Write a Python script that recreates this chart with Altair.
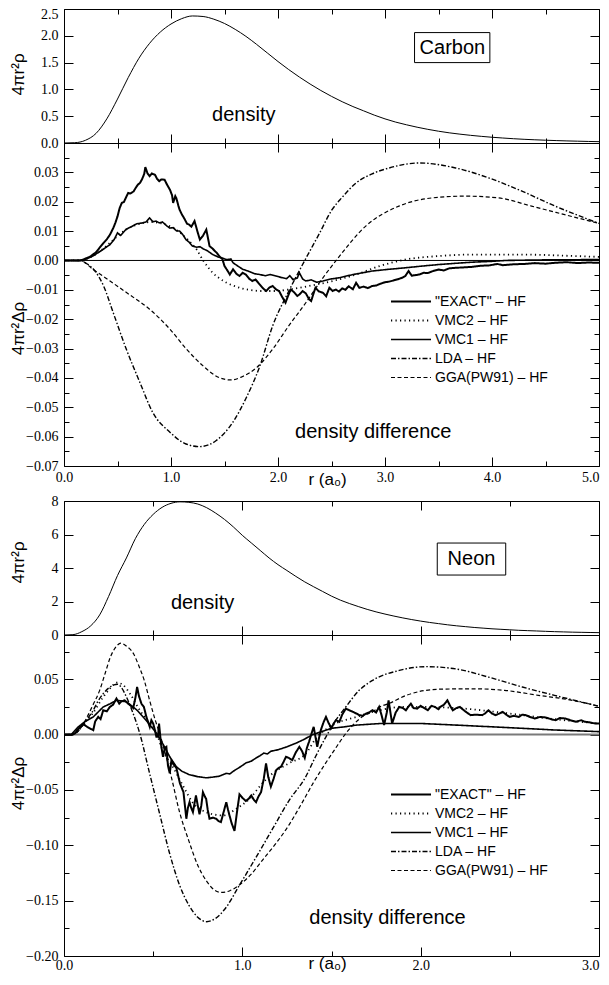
import altair as alt
import pandas as pd

# ======================= DATA =======================
SERIES = ['"EXACT" – HF', 'VMC2 – HF', 'VMC1 – HF', 'LDA – HF', 'GGA(PW91) – HF']

# ---- Carbon: radial density 4πr²ρ ----
C_DENS = [(0.0, 0.0), (0.1, 0.005), (0.2, 0.05), (0.3, 0.18), (0.4, 0.45), (0.5, 0.82),
          (0.6, 1.22), (0.7, 1.58), (0.8, 1.86), (0.9, 2.07), (1.0, 2.22), (1.1, 2.32),
          (1.2, 2.37), (1.3, 2.36), (1.4, 2.31), (1.5, 2.23), (1.6, 2.12), (1.7, 1.99),
          (1.8, 1.84), (1.9, 1.68), (2.0, 1.52), (2.1, 1.37), (2.2, 1.23), (2.3, 1.10),
          (2.4, 0.98), (2.5, 0.87), (2.6, 0.77), (2.7, 0.68), (2.8, 0.60), (2.9, 0.52),
          (3.0, 0.45), (3.1, 0.39), (3.2, 0.34), (3.3, 0.295), (3.4, 0.255), (3.5, 0.22),
          (3.6, 0.19), (3.7, 0.165), (3.8, 0.143), (3.9, 0.124), (4.0, 0.107), (4.1, 0.093),
          (4.2, 0.080), (4.3, 0.069), (4.4, 0.060), (4.5, 0.052), (4.6, 0.045), (4.7, 0.039),
          (4.8, 0.034), (4.9, 0.029), (5.0, 0.025)]

# ---- Carbon: density differences 4πr²Δρ ----
C_EXACT = [(0.0, 0.0), (0.1, 0.0), (0.15, 0.0), (0.18, 0.0003), (0.21, 0.0008), (0.24, 0.0012),
           (0.27, 0.002), (0.3, 0.0028), (0.33, 0.0042), (0.37, 0.006), (0.40, 0.0072), (0.43, 0.0088),
           (0.46, 0.011), (0.48, 0.0128), (0.5, 0.015), (0.52, 0.0178), (0.54, 0.0196), (0.56, 0.0199),
           (0.58, 0.0215), (0.6, 0.023), (0.62, 0.0228), (0.65, 0.0235), (0.67, 0.0247), (0.69, 0.0258),
           (0.71, 0.0264), (0.73, 0.0277), (0.75, 0.0295), (0.76, 0.0318), (0.78, 0.0297), (0.80, 0.0287),
           (0.82, 0.0296), (0.85, 0.0292), (0.87, 0.0278), (0.89, 0.027), (0.91, 0.0276), (0.94, 0.0275),
           (0.96, 0.026), (0.99, 0.0241), (1.01, 0.0222), (1.02, 0.0196), (1.04, 0.0219), (1.05, 0.0212),
           (1.07, 0.0185), (1.08, 0.0173), (1.10, 0.0158), (1.13, 0.0139), (1.15, 0.0125), (1.17, 0.0122),
           (1.19, 0.0115), (1.22, 0.0134), (1.25, 0.0095), (1.27, 0.0071), (1.30, 0.0085), (1.33, 0.0105),
           (1.35, 0.0068), (1.36, 0.0049), (1.39, 0.004), (1.41, 0.0032), (1.43, 0.0025), (1.45, 0.0015),
           (1.48, 0.0005), (1.5, -0.0019), (1.52, -0.003), (1.55, -0.0048), (1.58, -0.003), (1.61, -0.0045),
           (1.64, -0.0053), (1.67, -0.0042), (1.70, -0.0048), (1.73, -0.0062), (1.76, -0.007), (1.79, -0.0065),
           (1.83, -0.0082), (1.86, -0.0095), (1.89, -0.0104), (1.92, -0.0092), (1.95, -0.0087), (1.98, -0.0098),
           (2.01, -0.0104), (2.04, -0.0125), (2.07, -0.0144), (2.1, -0.0115), (2.12, -0.0099), (2.15, -0.0108),
           (2.18, -0.0121), (2.2, -0.0116), (2.23, -0.0104), (2.26, -0.0112), (2.29, -0.0132), (2.31, -0.0138),
           (2.33, -0.0115), (2.35, -0.0093), (2.38, -0.0105), (2.42, -0.011), (2.45, -0.0122), (2.48, -0.0093),
           (2.51, -0.0104), (2.54, -0.0099), (2.57, -0.0106), (2.6, -0.0095), (2.63, -0.01), (2.66, -0.0088),
           (2.7, -0.0098), (2.73, -0.0076), (2.76, -0.0093), (2.8, -0.0089), (2.84, -0.0094), (2.88, -0.0087),
           (2.92, -0.0085), (2.96, -0.0079), (3.0, -0.0074), (3.04, -0.0072), (3.08, -0.0068), (3.12, -0.0064),
           (3.16, -0.0059), (3.19, -0.0053), (3.22, -0.0036), (3.25, -0.0052), (3.28, -0.005), (3.32, -0.0048),
           (3.36, -0.0042), (3.4, -0.0043), (3.45, -0.0036), (3.5, -0.0031), (3.55, -0.0034), (3.6, -0.0027),
           (3.66, -0.0025), (3.72, -0.0024), (3.81, -0.0022), (3.9, -0.0018), (3.97, -0.0017), (4.05, -0.0012),
           (4.1, -0.0016), (4.2, -0.0013), (4.3, -0.0012), (4.4, -0.0009), (4.5, -0.0011), (4.59, -0.0008),
           (4.7, -0.0006), (4.8, -0.0009), (4.9, -0.0007), (5.0, -0.0008)]

C_VMC2 = [(0.0, 0.0), (0.15, 0.0), (0.2, 0.0004), (0.27, 0.0015), (0.35, 0.0035), (0.43, 0.006),
          (0.5, 0.0083), (0.58, 0.0105), (0.66, 0.0119), (0.74, 0.0128), (0.82, 0.0131), (0.89, 0.0128),
          (0.96, 0.0121), (1.02, 0.0111), (1.08, 0.0096), (1.14, 0.0077), (1.19, 0.0058), (1.24, 0.0037),
          (1.30, 0.0), (1.35, -0.0025), (1.39, -0.0042), (1.45, -0.006), (1.52, -0.0076), (1.60, -0.0088),
          (1.67, -0.0096), (1.75, -0.0101), (1.83, -0.0104), (1.98, -0.0104), (2.1, -0.0099), (2.29, -0.0087),
          (2.51, -0.007), (2.73, -0.0048), (2.95, -0.0019), (3.19, 0.0003), (3.5, 0.0015), (3.81, 0.002),
          (4.28, 0.002), (4.7, 0.0016), (5.0, 0.0012)]

C_VMC1 = [(0.0, 0.0), (0.15, 0.0), (0.2, 0.0004), (0.27, 0.0015), (0.35, 0.0034), (0.43, 0.0054),
          (0.47, 0.0072), (0.5, 0.0094), (0.53, 0.0085), (0.58, 0.0106), (0.63, 0.0115), (0.68, 0.0125),
          (0.74, 0.0128), (0.77, 0.0132), (0.80, 0.0145), (0.83, 0.0132), (0.86, 0.0134), (0.89, 0.0128),
          (0.92, 0.0131), (0.96, 0.0118), (0.99, 0.011), (1.02, 0.0112), (1.05, 0.0101), (1.08, 0.010),
          (1.11, 0.0088), (1.14, 0.0071), (1.17, 0.0062), (1.20, 0.0049), (1.24, 0.0045), (1.27, 0.0047),
          (1.30, 0.004), (1.34, 0.0033), (1.39, 0.002), (1.44, 0.0012), (1.48, 0.0008), (1.52, 0.0003),
          (1.56, 0.0005), (1.58, -0.0008), (1.62, -0.0018), (1.67, -0.003), (1.72, -0.0036), (1.78, -0.0045),
          (1.83, -0.0048), (1.88, -0.0052), (1.93, -0.0048), (1.98, -0.0053), (2.03, -0.0058), (2.08, -0.0062),
          (2.11, -0.0052), (2.14, -0.0065), (2.18, -0.006), (2.2, -0.0042), (2.23, -0.0063), (2.26, -0.007),
          (2.31, -0.0066), (2.36, -0.0074), (2.42, -0.007), (2.48, -0.0064), (2.57, -0.0059), (2.7, -0.0048),
          (2.88, -0.0036), (3.04, -0.003), (3.19, -0.0025), (3.35, -0.0019), (3.5, -0.0014), (3.65, -0.001),
          (3.81, -0.0006), (4.0, -0.0003), (4.13, 0.0), (4.5, 0.0002), (5.0, 0.0003)]

C_LDA = [(0.0, 0.0), (0.1, 0.0), (0.15, 0.0), (0.2, -0.0008), (0.29, -0.0036), (0.37, -0.0087),
         (0.46, -0.0178), (0.58, -0.030), (0.71, -0.0416), (0.83, -0.0518), (0.99, -0.0585),
         (1.14, -0.0625), (1.27, -0.0634), (1.42, -0.0614), (1.58, -0.055), (1.70, -0.047),
         (1.83, -0.036), (1.95, -0.0223), (2.1, -0.0105), (2.25, 0.0), (2.39, 0.0094), (2.5, 0.017),
         (2.6, 0.0215), (2.73, 0.0264), (2.88, 0.0295), (3.04, 0.0315), (3.32, 0.0332), (3.66, 0.0315),
         (3.97, 0.0281), (4.28, 0.0236), (4.59, 0.0185), (4.9, 0.014), (5.0, 0.0126)]

C_GGA = [(0.0, 0.0), (0.15, 0.0), (0.27, -0.003), (0.43, -0.007), (0.61, -0.0116), (0.80, -0.0166),
         (0.99, -0.0234), (1.14, -0.030), (1.30, -0.0359), (1.45, -0.0399), (1.56, -0.0407),
         (1.67, -0.0395), (1.80, -0.0365), (1.95, -0.0302), (2.1, -0.0223), (2.26, -0.0144),
         (2.42, -0.0059), (2.55, 0.0003), (2.82, 0.0117), (3.13, 0.0185), (3.44, 0.0213), (3.75, 0.0219),
         (4.06, 0.0213), (4.37, 0.0185), (4.68, 0.0156), (5.0, 0.0126)]

# ---- Neon: radial density 4πr²ρ ----
N_DENS = [(0.0, 0.0), (0.05, 0.02), (0.10, 0.2), (0.15, 0.55), (0.20, 1.2), (0.25, 2.3), (0.30, 3.55),
          (0.35, 4.6), (0.40, 5.75), (0.45, 6.6), (0.50, 7.2), (0.55, 7.62), (0.60, 7.86), (0.65, 7.95),
          (0.70, 7.92), (0.75, 7.82), (0.80, 7.6), (0.85, 7.28), (0.90, 6.9), (0.95, 6.45), (1.00, 5.95),
          (1.05, 5.5), (1.10, 5.05), (1.15, 4.6), (1.20, 4.2), (1.25, 3.85), (1.30, 3.5), (1.35, 3.17),
          (1.40, 2.88), (1.45, 2.6), (1.50, 2.32), (1.55, 2.08), (1.60, 1.88), (1.65, 1.70), (1.70, 1.53),
          (1.75, 1.38), (1.80, 1.25), (1.85, 1.13), (1.90, 1.02), (1.95, 0.92), (2.00, 0.83), (2.05, 0.75),
          (2.10, 0.68), (2.15, 0.61), (2.20, 0.55), (2.25, 0.50), (2.30, 0.45), (2.35, 0.41), (2.40, 0.37),
          (2.45, 0.34), (2.50, 0.31), (2.55, 0.28), (2.60, 0.26), (2.65, 0.24), (2.70, 0.22), (2.75, 0.20),
          (2.80, 0.185), (2.85, 0.17), (2.90, 0.16), (2.95, 0.15), (3.00, 0.14)]

# ---- Neon: density differences 4πr²Δρ ----
N_EXACT = [(0.0, 0.0), (0.04, 0.0), (0.06, 0.001), (0.08, 0.005), (0.108, 0.0096), (0.13, 0.007),
           (0.164, 0.004), (0.175, 0.012), (0.192, 0.016), (0.205, 0.014), (0.22, 0.022), (0.24, 0.021),
           (0.257, 0.025), (0.275, 0.027), (0.294, 0.0326), (0.31, 0.028), (0.322, 0.030), (0.34, 0.031),
           (0.36, 0.028), (0.375, 0.026), (0.388, 0.024), (0.4, 0.033), (0.41, 0.043), (0.42, 0.035),
           (0.434, 0.028), (0.448, 0.025), (0.462, 0.016), (0.481, 0.007), (0.49, 0.013), (0.5, 0.010),
           (0.51, 0.004), (0.518, -0.002), (0.527, -0.002), (0.533, 0.010), (0.545, -0.01), (0.555, -0.02),
           (0.565, -0.012), (0.574, -0.011), (0.583, -0.028), (0.593, -0.035), (0.602, -0.024), (0.61, -0.026),
           (0.63, -0.030), (0.65, -0.044), (0.67, -0.052), (0.686, -0.076), (0.695, -0.066), (0.704, -0.061),
           (0.713, -0.066), (0.723, -0.070), (0.732, -0.062), (0.74, -0.055), (0.75, -0.064), (0.76, -0.072),
           (0.77, -0.064), (0.779, -0.052), (0.79, -0.056), (0.797, -0.058), (0.806, -0.068), (0.816, -0.076),
           (0.835, -0.075), (0.853, -0.076), (0.866, -0.078), (0.88, -0.079), (0.895, -0.07), (0.91, -0.061),
           (0.92, -0.068), (0.928, -0.073), (0.94, -0.08), (0.956, -0.087), (0.97, -0.07), (0.984, -0.054),
           (1.0, -0.057), (1.02, -0.060), (1.035, -0.058), (1.05, -0.055), (1.065, -0.059), (1.077, -0.061),
           (1.09, -0.056), (1.105, -0.052), (1.12, -0.04), (1.133, -0.026), (1.145, -0.038), (1.16, -0.047),
           (1.175, -0.04), (1.19, -0.032), (1.205, -0.03), (1.217, -0.029), (1.23, -0.025), (1.245, -0.020),
           (1.26, -0.021), (1.28, -0.023), (1.3, -0.016), (1.32, -0.011), (1.335, -0.015), (1.35, -0.021),
           (1.362, -0.012), (1.375, -0.006), (1.39, 0.002), (1.4, 0.007), (1.41, -0.002), (1.42, -0.011),
           (1.43, -0.003), (1.44, 0.004), (1.455, 0.011), (1.469, 0.016), (1.485, 0.010), (1.5, 0.006),
           (1.512, 0.010), (1.525, 0.013), (1.544, 0.0116), (1.56, 0.018), (1.58, 0.0235), (1.6, 0.022),
           (1.62, 0.0206), (1.64, 0.019), (1.655, 0.0176), (1.675, 0.017), (1.693, 0.019), (1.71, 0.02),
           (1.73, 0.022), (1.75, 0.02), (1.767, 0.025), (1.78, 0.018), (1.795, 0.0086), (1.81, 0.02),
           (1.82, 0.031), (1.84, 0.010), (1.86, 0.02), (1.88, 0.025), (1.9, 0.024), (1.917, 0.022),
           (1.93, 0.025), (1.945, 0.028), (1.96, 0.024), (1.98, 0.0235), (2.0, 0.026), (2.01, 0.025),
           (2.03, 0.023), (2.04, 0.022), (2.06, 0.026), (2.08, 0.025), (2.1, 0.023), (2.11, 0.025),
           (2.13, 0.027), (2.15, 0.031), (2.165, 0.026), (2.18, 0.022), (2.2, 0.024), (2.22, 0.025),
           (2.25, 0.021), (2.28, 0.0176), (2.31, 0.018), (2.345, 0.0176), (2.36, 0.019), (2.38, 0.022),
           (2.4, 0.019), (2.42, 0.0176), (2.44, 0.019), (2.46, 0.0206), (2.48, 0.018), (2.5, 0.016),
           (2.52, 0.017), (2.55, 0.016), (2.57, 0.018), (2.59, 0.0176), (2.61, 0.016), (2.64, 0.0146),
           (2.67, 0.016), (2.7, 0.0155), (2.73, 0.014), (2.756, 0.013), (2.78, 0.015), (2.81, 0.0146),
           (2.84, 0.013), (2.87, 0.0116), (2.9, 0.013), (2.92, 0.0116), (2.95, 0.011), (2.98, 0.010),
           (3.0, 0.010)]

N_VMC2 = [(0.0, 0.0), (0.04, 0.0), (0.08, 0.006), (0.12, 0.012), (0.16, 0.019), (0.22, 0.034),
          (0.26, 0.042), (0.295, 0.047), (0.33, 0.045), (0.37, 0.037), (0.425, 0.022), (0.48, 0.010),
          (0.52, 0.001), (0.55, -0.013), (0.61, -0.029), (0.67, -0.047), (0.72, -0.061), (0.797, -0.070),
          (0.89, -0.073), (0.966, -0.067), (1.04, -0.058), (1.115, -0.0435), (1.17, -0.035), (1.26, -0.026),
          (1.357, -0.017), (1.41, -0.004), (1.5, 0.008), (1.64, 0.016), (1.77, 0.022), (1.9, 0.025),
          (2.0, 0.025), (2.2, 0.024), (2.5, 0.019), (2.75, 0.014), (3.0, 0.010)]

N_VMC1 = [(0.0, 0.0), (0.04, 0.0), (0.08, 0.007), (0.12, 0.012), (0.164, 0.016), (0.22, 0.025),
          (0.26, 0.028), (0.295, 0.031), (0.32, 0.0305), (0.35, 0.0296), (0.38, 0.026), (0.41, 0.022),
          (0.46, 0.013), (0.52, 0.001), (0.56, -0.01), (0.593, -0.020), (0.63, -0.029), (0.66, -0.033),
          (0.70, -0.036), (0.75, -0.038), (0.797, -0.039), (0.83, -0.0385), (0.87, -0.0376), (0.91, -0.035),
          (0.93, -0.0355), (0.95, -0.033), (0.99, -0.029), (1.02, -0.0256), (1.05, -0.024), (1.078, -0.021),
          (1.1, -0.019), (1.12, -0.0167), (1.14, -0.0175), (1.16, -0.015), (1.2, -0.0137), (1.25, -0.011),
          (1.3, -0.0078), (1.35, -0.004), (1.394, 0.0), (1.45, 0.003), (1.5, 0.0057), (1.57, 0.007),
          (1.64, 0.0086), (1.77, 0.010), (1.82, 0.010), (2.01, 0.010), (2.2, 0.0086), (2.38, 0.0072),
          (2.57, 0.0057), (2.75, 0.0042), (3.0, 0.0027)]

N_LDA = [(0.0, 0.0), (0.04, 0.0), (0.07, 0.002), (0.1, 0.007), (0.13, 0.014), (0.164, 0.022),
         (0.19, 0.030), (0.22, 0.037), (0.25, 0.042), (0.28, 0.045), (0.3, 0.0455), (0.32, 0.043),
         (0.35, 0.034), (0.388, 0.019), (0.425, 0.001), (0.48, -0.035), (0.537, -0.072), (0.59, -0.106),
         (0.648, -0.136), (0.7, -0.154), (0.75, -0.165), (0.8, -0.169), (0.85, -0.166), (0.9, -0.158),
         (0.984, -0.136), (1.08, -0.110), (1.17, -0.085), (1.26, -0.060), (1.357, -0.0376), (1.41, -0.020),
         (1.469, -0.002), (1.52, 0.012), (1.58, 0.025), (1.655, 0.040), (1.73, 0.049), (1.88, 0.058),
         (2.03, 0.0614), (2.2, 0.0593), (2.38, 0.052), (2.57, 0.043), (2.75, 0.0355), (3.0, 0.0256)]

N_GGA = [(0.0, 0.0), (0.04, 0.0), (0.065, 0.001), (0.09, 0.005), (0.12, 0.013), (0.16, 0.026),
         (0.2, 0.040), (0.23, 0.055), (0.26, 0.070), (0.29, 0.079), (0.319, 0.0826), (0.35, 0.080),
         (0.39, 0.073), (0.42, 0.062), (0.45, 0.049), (0.48, 0.031), (0.51, 0.014), (0.54, -0.001),
         (0.6, -0.037), (0.648, -0.07), (0.7, -0.096), (0.75, -0.118), (0.798, -0.132), (0.84, -0.140),
         (0.88, -0.1426), (0.93, -0.141), (0.99, -0.135), (1.05, -0.126), (1.12, -0.112), (1.19, -0.098),
         (1.26, -0.082), (1.33, -0.063), (1.4, -0.043), (1.45, -0.030), (1.52, -0.013), (1.58, 0.001),
         (1.62, 0.0086), (1.68, 0.017), (1.73, 0.0206), (1.77, 0.025), (1.82, 0.028), (1.92, 0.0355),
         (2.1, 0.041), (2.29, 0.0414), (2.47, 0.040), (2.66, 0.0355), (2.85, 0.031), (3.0, 0.0256)]

# axis ticks / labels
C_X_MAJOR = [0.0, 1.0, 2.0, 3.0, 4.0, 5.0]
C_X_MINOR = [0.5, 1.5, 2.5, 3.5, 4.5]
C_TOP_Y = [0.0, 0.5, 1.0, 1.5, 2.0, 2.5]
C_DIFF_Y = [-0.07, -0.06, -0.05, -0.04, -0.03, -0.02, -0.01, 0.0, 0.01, 0.02, 0.03]
C_DIFF_Y_MINOR = [-0.065, -0.055, -0.045, -0.035, -0.025, -0.015, -0.005, 0.005, 0.015, 0.025, 0.035]
N_X_MAJOR = [0.0, 1.0, 2.0, 3.0]
N_X_MINOR = [0.5, 1.5, 2.5]
N_TOP_Y = [0, 2, 4, 6, 8]
N_DIFF_Y = [-0.20, -0.15, -0.10, -0.05, 0.0, 0.05]
N_DIFF_Y_MINOR = [-0.175, -0.125, -0.075, -0.025, 0.025, 0.075]

# ======================= STYLE =======================
W = 535
SANS = "Liberation Sans"
SERIF = "Liberation Serif"
DASH = [[1, 0], [1.2, 3.3], [1, 0], [5, 2, 1.5, 2], [4, 2.5]]
WIDTHS = [2.0, 1.2, 0.9, 1.0, 1.0]
INTERP = ["linear", "monotone", "linear", "monotone", "monotone"]


def frame(pairs, name=None):
    d = pd.DataFrame(pairs, columns=["r", "v"])
    if name is not None:
        d["series"] = name
    return d


def tick_axis(orient, values, size):
    return alt.Axis(orient=orient, values=values, tickSize=size, offset=-size, domain=False,
                    grid=False, labels=False, ticks=True, title=None, tickColor="black",
                    minExtent=0)


def x_label_axis(values, title, label_pad=4, title_y=21):
    kw = dict(orient="bottom", values=values, tickSize=9, offset=-9, domain=False, grid=False,
              ticks=True, tickColor="black", labels=title is not None, format=".1f",
              labelFont=SERIF, labelFontSize=14, labelPadding=label_pad, labelFlush=False,
              labelOverlap=False, labelColor="black", minExtent=0)
    if title is None:
        kw["title"] = None
    else:
        # the last tick label sits at the right edge: align it right so it stays readable
        kw["labelAlign"] = {"condition": {"test": f"datum.value >= {max(values)}",
                                          "value": "right"}, "value": "center"}
        kw.update(title=title, titleFont=SANS, titleFontSize=17, titleFontWeight="normal",
                  titleColor="black", titleX=263, titleY=title_y, titleBaseline="middle",
                  titleAlign="center")
    return alt.Axis(**kw)


def y_label_axis(values, fmt, title, title_y, label_offset=None):
    kw = dict(orient="left", values=values, tickSize=9, offset=-9, domain=False, grid=False,
              ticks=True, tickColor="black", labels=True, format=fmt, labelFont=SERIF,
              labelFontSize=14, labelPadding=6, labelFlush=False, labelOverlap=False,
              labelColor="black", title=title, titleFont=SANS, titleFontSize=17,
              titleFontWeight="normal", titleColor="black", titleX=-55, titleY=title_y,
              titleAngle=270, titleBaseline="middle", titleAlign="center", minExtent=0)
    if label_offset is not None:
        kw["labelOffset"] = label_offset
    return alt.Axis(**kw)


def annot_text(text, x, y, size=20):
    return alt.Chart(pd.DataFrame({"k": [0]})).mark_text(
        text=text, font=SANS, fontSize=size, color="black", align="center", baseline="middle"
    ).encode(x=alt.XDatum(x, axis=None), y=alt.YDatum(y, axis=None))


def annot_box(x1, x2, y1, y2):
    return alt.Chart(pd.DataFrame({"k": [0]})).mark_rect(
        fill="white", stroke="black", strokeWidth=1
    ).encode(x=alt.XDatum(x1, axis=None), x2=alt.X2Datum(x2),
             y=alt.YDatum(y1, axis=None), y2=alt.Y2Datum(y2))


def density_panel(pairs, xdom, ydom, h, xmaj, xmin, yvals, yfmt, title_y, texts, box,
                  label_offset=None):
    xs = alt.Scale(domain=xdom, nice=False, zero=False)
    ys = alt.Scale(domain=ydom, nice=False, zero=False)
    d = frame(pairs)
    axes = [
        (x_label_axis(xmaj, None), y_label_axis(yvals, yfmt, "4πr²ρ", title_y, label_offset)),
        (tick_axis("bottom", xmin, 5), tick_axis("right", yvals, 9)),
        (tick_axis("top", xmaj, 9), None),
        (tick_axis("top", xmin, 5), None),
    ]
    layers = []
    for i, (ax, ay) in enumerate(axes):
        layers.append(
            alt.Chart(d).mark_line(color="black", strokeWidth=1, interpolate="monotone",
                                   opacity=1 if i == 0 else 0)
            .encode(x=alt.X("r:Q", scale=xs, axis=ax), y=alt.Y("v:Q", scale=ys, axis=ay))
        )
    layers.append(annot_box(*box))
    for t in texts:
        layers.append(annot_text(*t))
    return alt.layer(*layers).resolve_axis(x="independent", y="independent").properties(
        width=W, height=h)


def diff_panel(series_pairs, xdom, ydom, h, xmaj, xmin, ymaj, ymin, title_y, leg_y,
               zero_color, zero_width, texts, label_pad, xtitle_y):
    xs = alt.Scale(domain=xdom, nice=False, zero=False)
    ys = alt.Scale(domain=ydom, nice=False, zero=False)
    legend = alt.Legend(title=None, orient="none", legendX=326, legendY=leg_y,
                        symbolType="stroke", symbolSize=1600, clipHeight=19,
                        symbolStrokeColor="black", labelFont=SANS, labelFontSize=14,
                        labelColor="black", labelOffset=3, rowPadding=0, padding=0,
                        labelBaseline="middle")
    axes = [
        (x_label_axis(xmaj, "r (a₀)", label_pad, xtitle_y),
         y_label_axis(ymaj, ".2f", "4πr²Δρ", title_y)),
        (tick_axis("bottom", xmin, 5), tick_axis("left", ymin, 5)),
        (tick_axis("top", xmaj, 9), tick_axis("right", ymaj, 9)),
        (tick_axis("top", xmin, 5), tick_axis("right", ymin, 5)),
        (None, None),
    ]
    zero = alt.Chart(pd.DataFrame({"z": [0.0]})).mark_rule(
        color=zero_color, strokeWidth=zero_width).encode(y=alt.Y("z:Q", scale=ys, axis=None))
    layers = [zero]
    for i, (name, pairs) in enumerate(zip(SERIES, series_pairs)):
        ax, ay = axes[i]
        layers.append(
            alt.Chart(frame(pairs, name)).mark_line(color="black", interpolate=INTERP[i],
                                                  strokeCap="butt")
            .encode(
                x=alt.X("r:Q", scale=xs, axis=ax),
                y=alt.Y("v:Q", scale=ys, axis=ay),
                strokeDash=alt.StrokeDash("series:N", scale=alt.Scale(domain=SERIES, range=DASH),
                                          legend=legend),
                strokeWidth=alt.StrokeWidth("series:N",
                                            scale=alt.Scale(domain=SERIES, range=WIDTHS),
                                            legend=legend),
            )
        )
    for t in texts:
        layers.append(annot_text(*t))
    return alt.layer(*layers).resolve_axis(x="independent", y="independent").properties(
        width=W, height=h)


p1 = density_panel(C_DENS, [0, 5], [0, 2.5], 134, C_X_MAJOR, C_X_MINOR, C_TOP_Y, ".1f", 65,
                   [("density", 1.68, 0.53), ("Carbon", 3.63, 1.78)],
                   (3.276, 3.98, 1.50, 2.06),
                   label_offset={"condition": {"test": "datum.value >= 2.5", "value": 5},
                                 "value": 0})
p2 = diff_panel([C_EXACT, C_VMC2, C_VMC1, C_LDA, C_GGA], [0, 5], [-0.07, 0.04], 323,
                C_X_MAJOR, C_X_MINOR, C_DIFF_Y, C_DIFF_Y_MINOR, 185, 149, "black", 1,
                [("density difference", 2.89, -0.0585)], 4, 22)
p3 = density_panel(N_DENS, [0, 3], [0, 8], 134, N_X_MAJOR, N_X_MINOR, N_TOP_Y, "d", 61,
                   [("density", 0.777, 1.91), ("Neon", 2.285, 4.54)],
                   (2.093, 2.477, 3.58, 5.49))
p4 = diff_panel([N_EXACT, N_VMC2, N_VMC1, N_LDA, N_GGA], [0, 3], [-0.20, 0.09], 321,
                N_X_MAJOR, N_X_MINOR, N_DIFF_Y, N_DIFF_Y_MINOR, 148, 150, "#7a7a7a", 2,
                [("density difference", 1.814, -0.1655)], 2, 16)

# empty spacer view that leaves the gap between the Carbon and Neon blocks
spacer = alt.Chart(pd.DataFrame({"k": [0]})).mark_point(opacity=0).properties(
    width=W, height=35, view=alt.ViewBackground(stroke=None))

ind = dict(strokeDash="independent", strokeWidth="independent")
chart = (
    alt.vconcat(p1, p2, spacer, p3, p4, spacing=0, bounds="flush")
    .resolve_scale(**ind)
    .properties(autosize=alt.AutoSizeParams(type="none"),
                padding={"left": 56, "top": 1, "right": 2, "bottom": 963},
                background="white")
    .configure_view(stroke="black", strokeWidth=1)
    .configure_axis(tickColor="black", labelColor="black", titleColor="black")
)

chart.save("out.html", embed_options={"renderer": "svg", "actions": False})
